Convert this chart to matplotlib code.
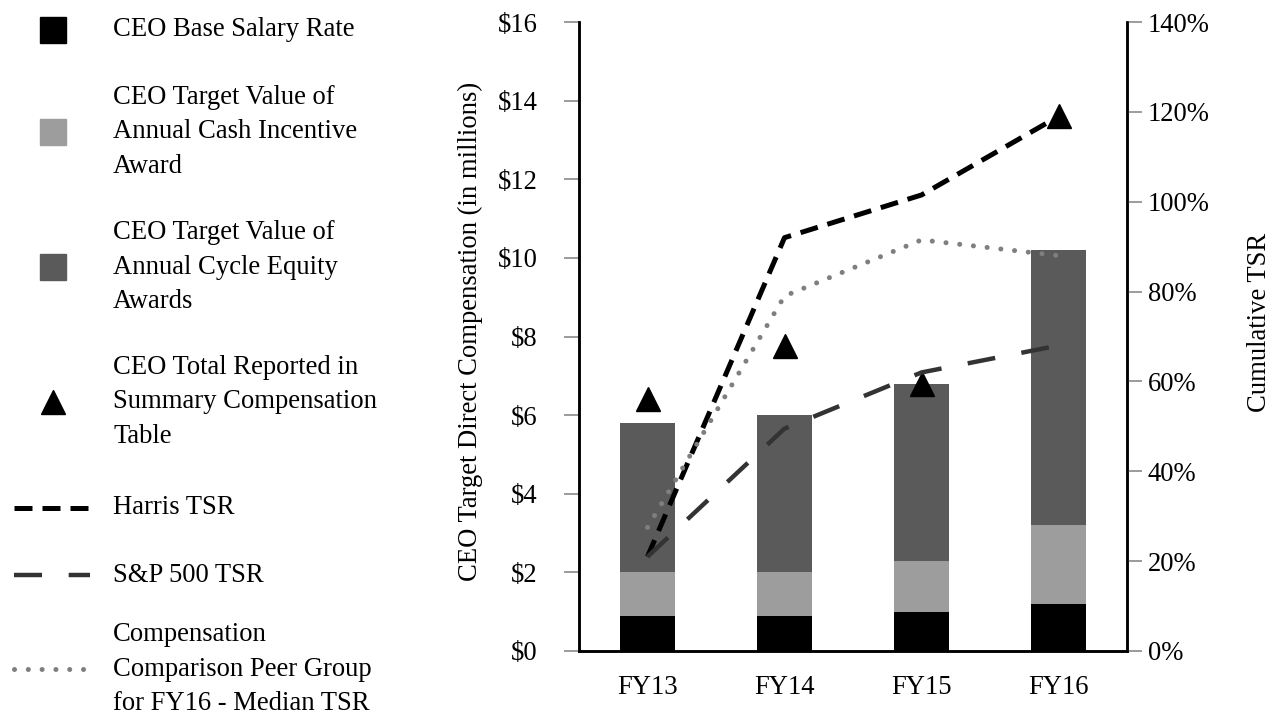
import matplotlib
matplotlib.use("Agg")
import matplotlib.pyplot as plt
from matplotlib.lines import Line2D
import numpy as np

# Fiscal years shown on the x axis
years = ["FY13", "FY14", "FY15", "FY16"]

# CEO target direct compensation components ($ millions)
base_salary = [0.9, 0.9, 1.0, 1.2]
cash_incentive = [1.1, 1.1, 1.3, 2.0]
equity_awards = [3.8, 4.0, 4.5, 7.0]

# CEO total reported in the summary compensation table ($ millions)
total_reported = [6.4, 7.75, 6.8, 13.6]

# Cumulative TSR (%)
harris_tsr = [21, 92, 101.5, 119]
sp500_tsr = [21, 49.5, 62, 68]
peer_median_tsr = [27.5, 79, 91.5, 88]

legend_labels = [
    "CEO Base Salary Rate",
    "CEO Target Value of\nAnnual Cash Incentive\nAward",
    "CEO Target Value of\nAnnual Cycle Equity\nAwards",
    "CEO Total Reported in\nSummary Compensation\nTable",
    "Harris TSR",
    "S&P 500 TSR",
    "Compensation\nComparison Peer Group\nfor FY16 - Median TSR",
]

FONT = "Liberation Serif"
FS = 19.2
C_BASE = "#000000"
C_CASH = "#9d9d9d"
C_EQUITY = "#5a5a5a"
C_SP = "#333333"
C_PEER = "#7f7f7f"
TICK_GRAY = "#8a8a8a"
W, H = 1274, 717

plt.rcParams["font.family"] = FONT
plt.rcParams["font.size"] = FS

fig = plt.figure(figsize=(W / 100, H / 100), dpi=100)
ax1 = fig.add_axes([579 / W, 1 - 651 / H, 548 / W, 629 / H])
ax2 = ax1.twinx()

x = np.arange(len(years))
w = 0.4
b1 = np.array(base_salary)
b2 = b1 + np.array(cash_incentive)

ax1.bar(x, base_salary, w, color=C_BASE, zorder=2)
ax1.bar(x, cash_incentive, w, bottom=b1, color=C_CASH, zorder=2)
ax1.bar(x, equity_awards, w, bottom=b2, color=C_EQUITY, zorder=2)
ax1.plot(x, total_reported, linestyle="none", marker="^", markersize=17,
         color="black", zorder=3)

# TSR lines on the right-hand axis
harris_style = dict(color="black", linewidth=3.6, linestyle=(0, (3.6, 2.0)),
                    dash_capstyle="butt")
sp_style = dict(color=C_SP, linewidth=3.2, linestyle=(0, (6.3, 6.0)),
                dash_capstyle="butt")
peer_style = dict(color=C_PEER, linewidth=3.6, linestyle=(0, (0.01, 2.75)),
                  dash_capstyle="round")
ax2.plot(x, harris_tsr, **harris_style)
ax2.plot(x, sp500_tsr, **sp_style)
ax2.plot(x, peer_median_tsr, **peer_style)

ax1.set_xlim(-0.5, 3.5)
ax1.set_ylim(0, 16)
ax2.set_ylim(0, 140)

ax1.set_xticks(x)
ax1.set_xticklabels(years)
ax1.set_yticks(np.arange(0, 17, 2))
ax1.set_yticklabels(["$%d" % v for v in range(0, 17, 2)])
ax2.set_yticks(np.arange(0, 141, 20))
ax2.set_yticklabels(["%d%%" % v for v in range(0, 141, 20)])

for ax in (ax1, ax2):
    ax.spines["top"].set_visible(False)
    for s in ("left", "right", "bottom"):
        ax.spines[s].set_linewidth(1.8)
        ax.spines[s].set_color("black")

ax1.tick_params(axis="x", length=0, pad=17, labelsize=FS)
ax1.tick_params(axis="y", length=10.8, width=1.2, color=TICK_GRAY,
                pad=19, labelsize=FS)
ax2.tick_params(axis="y", length=10.8, width=1.2, color=TICK_GRAY,
                pad=4, labelsize=FS)

fig.text(470 / W, 1 - 331 / H, "CEO Target Direct Compensation (in millions)",
         rotation=90, ha="center", va="center", fontsize=FS)
fig.text(1259 / W, 1 - 322 / H, "Cumulative TSR",
         rotation=90, ha="center", va="center", fontsize=FS)

# Legend down the left side, one row per entry (pixel centres from top)
row_y = [30, 132, 267, 402, 508, 575, 669]
swatches = [
    dict(marker="s", markersize=19.4, color=C_BASE),
    dict(marker="s", markersize=19.4, color=C_CASH),
    dict(marker="s", markersize=19.4, color=C_EQUITY),
    dict(marker="^", markersize=17, color="black"),
    harris_style,
    sp_style,
    peer_style,
]
for yp, label, sw in zip(row_y, legend_labels, swatches):
    yf = 1 - yp / H
    if "marker" in sw:
        fig.add_artist(Line2D([53 / W], [yf], linestyle="none", **sw))
    else:
        fig.add_artist(Line2D([14 / W, 90 / W], [yf, yf], **sw))
    fig.text(113 / W, yf, label, ha="left", va="center", fontsize=FS,
             linespacing=1.5)

fig.savefig("out.png", dpi=100)
plt.close(fig)
